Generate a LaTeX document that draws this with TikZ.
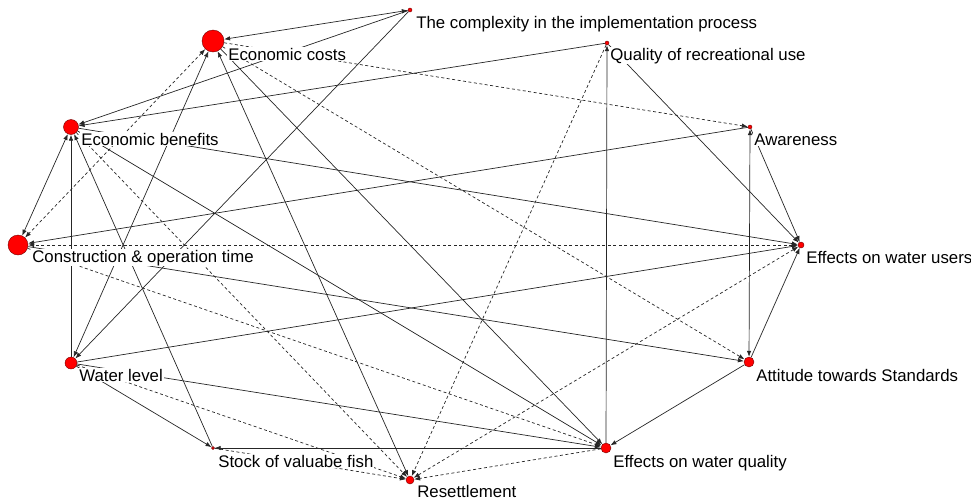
\documentclass[tikz,border=0pt]{standalone}
\usepackage{fontspec}
\setmainfont{Liberation Sans}
\usetikzlibrary{arrows.meta}

\begin{document}
\begin{tikzpicture}[
            x = 1pt, y = -1pt, % pixel grid, y pointing down
            > = {Latex[length=6pt,width=4.5pt]}, % arrow head style
            shorten > = 0pt,
            line width = 0.7pt,
            draw = black!85,
            dot/.style = {shape=circle, draw=red!45!black, fill=red, inner sep=0pt, line width=0.4pt},
            lbl/.style = {anchor=base west, fill=white, inner sep=1pt, font=\fontsize{16.8}{18}\selectfont},
            dsh/.style = {dash pattern=on 3pt off 2.5pt}
        ]
\useasboundingbox (0,0) rectangle (971,501);

\node[dot, minimum size=4pt] (C) at (410,10) {};
\node[dot, minimum size=22pt] (EC) at (213,41) {};
\node[dot, minimum size=4pt] (Q) at (607,43) {};
\node[dot, minimum size=15pt] (EB) at (71,127) {};
\node[dot, minimum size=4pt] (A) at (750,127) {};
\node[dot, minimum size=20pt] (CT) at (18,245) {};
\node[dot, minimum size=6pt] (WU) at (801,245) {};
\node[dot, minimum size=12pt] (WL) at (71,363) {};
\node[dot, minimum size=10pt] (AT) at (749,362) {};
\node[dot, minimum size=3pt] (SF) at (213,448) {};
\node[dot, minimum size=10pt] (WQ) at (606,448) {};
\node[dot, minimum size=8pt] (R) at (410,480) {};

% solid influences
 \path [<->] (C) edge (EC);
 \path [->] (C) edge (EB);
 \path [->] (C) edge (WL);
 \path [->] (Q) edge (EB);
 \path [->] (Q) edge (WU);
 \path [->] (WQ) edge (Q);
 \path [<->] (EB) edge (CT);
 \path [->] (WL) edge (EB);
 \path [->] (SF) edge (EB);
 \path [->] (EB) edge (WU);
 \path [->] (EB) edge (WQ);
 \path [->] (A) edge (CT);
 \path [<->] (A) edge (AT);
 \path [->] (A) edge (WU);
 \path [->] (AT) edge (WU);
 \path [->] (AT) edge (WQ);
 \path [->] (CT) edge (AT);
 \path [<->] (WL) edge (EC);
 \path [<->] (EC) edge (R);
 \path [->] (EC) edge (WQ);
 \path [->] (WL) edge (WU);
 \path [->] (WL) edge (WQ);
 \path [->] (WL) edge (SF);
 \path [->] (WQ) edge (SF);

% dashed influences
 \path [<->, dsh] (EC) edge (CT);
 \path [->, dsh] (EC) edge (A);
 \path [->, dsh] (EC) edge (AT);
 \path [<->, dsh] (WU) edge (CT);
 \path [->, dsh] (CT) edge (WQ);
 \path [->, dsh] (EB) edge (R);
 \path [->, dsh] (Q) edge (R);
 \path [<->, dsh] (WU) edge (R);
 \path [->, dsh] (WQ) edge (R);
 \path [->, dsh] (SF) edge (R);
 \path [->, dsh] (WL) edge (R);

% labels
\node[lbl] (Clbl) at (415,28) {The complexity in the implementation process};
\node[lbl] (EClbl) at (227,60) {Economic costs};
\node[lbl] (Qlbl) at (609,60) {Quality of recreational use};
\node[lbl] (EBlbl) at (80,145) {Economic benefits};
\node[lbl] (Albl) at (753,145) {Awareness};
\node[lbl] (CTlbl) at (31,262) {Construction \& operation time};
\node[lbl] (WUlbl) at (805,263) {Effects on water users};
\node[lbl] (WLlbl) at (78,381) {Water level};
\node[lbl] (ATlbl) at (755,381) {Attitude towards Standards};
\node[lbl] (SFlbl) at (217,467) {Stock of valuabe fish};
\node[lbl] (WQlbl) at (612,467) {Effects on water quality};
\node[lbl] (Rlbl) at (416,497) {Resettlement};
\end{tikzpicture}
\end{document}
